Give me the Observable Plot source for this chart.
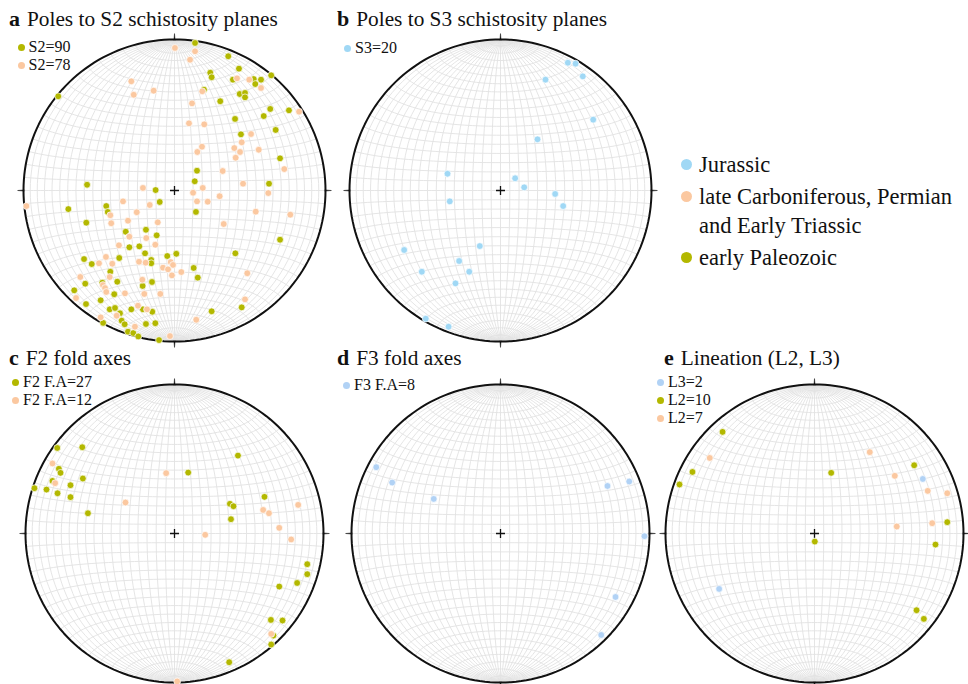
<!DOCTYPE html>
<html><head><meta charset="utf-8">
<script src="https://cdn.jsdelivr.net/npm/d3@7"></script>
<script src="https://cdn.jsdelivr.net/npm/@observablehq/plot@0.6"></script>
<style>
body{margin:0;background:#fff;}
#fig{position:relative;width:968px;height:684px;overflow:hidden;background:#fff;font-family:"Liberation Serif","Times New Roman",serif;color:#111;}
.panel{position:absolute;}
.panel svg{display:block;max-width:none;}
.title{position:absolute;font-size:21.3px;line-height:1;white-space:nowrap;z-index:2;}
.title b{margin-right:7px;font-size:22px;}
.leg{position:absolute;font-size:16px;line-height:18px;white-space:nowrap;z-index:2;}
.leg .row{display:flex;align-items:center;height:18px;}
.leg .d{display:inline-block;width:7px;height:7px;border-radius:50%;margin-right:4px;}
.big{position:absolute;font-size:22.5px;line-height:29px;z-index:2;}
.big .row{display:flex;align-items:flex-start;margin-bottom:3px;}
.big .d{display:inline-block;width:11px;height:11px;border-radius:50%;margin:9px 7px 0 0;flex:none;}
</style></head>
<body><div id="fig"></div>
<script>
// ---- colours
const GREEN = "#b3b800", PEACH = "#fbc8a0", BLUE = "#a0d8f5", BLUE2 = "#b1d2f5";

// ---- data: positions of points on the equal-area net (east, north), unit radius
// a: poles to S2
const a_paleozoic = [[-0.770,0.624],[-0.579,0.038],[-0.125,0.003],[0.136,0.977],[0.356,0.889],[0.427,0.807],[0.644,0.767],[0.237,0.780],[0.246,0.750],[0.387,0.734],[0.525,0.738],[0.573,0.734],[0.535,0.705],[0.195,0.668],[0.432,0.639],[0.467,0.646],[0.467,0.617],[0.303,0.591],[0.634,0.540],[0.758,0.531],[0.591,0.493],[0.401,0.474],[0.670,0.401],[0.440,0.372],[0.699,0.213],[0.149,0.131],[0.134,0.061],[0.626,0.045],[-0.703,-0.123],[-0.098,-0.076],[-0.452,-0.103],[-0.442,-0.142],[-0.584,-0.213],[-0.323,-0.273],[-0.189,-0.260],[-0.118,-0.297],[-0.299,-0.376],[-0.233,-0.370],[-0.195,-0.416],[-0.599,-0.454],[-0.548,-0.487],[-0.366,-0.447],[-0.154,-0.460],[-0.154,-0.482],[-0.048,-0.434],[0.012,-0.419],[-0.425,-0.538],[-0.591,-0.617],[-0.478,-0.611],[-0.379,-0.604],[-0.399,-0.687],[-0.664,-0.661],[-0.211,-0.632],[-0.149,-0.606],[-0.586,-0.752],[-0.489,-0.727],[-0.429,-0.787],[-0.394,-0.778],[-0.286,-0.787],[-0.209,-0.787],[-0.147,-0.803],[-0.361,-0.813],[-0.350,-0.862],[-0.330,-0.886],[-0.474,-0.879],[-0.308,-0.935],[-0.273,-0.944],[-0.189,-0.884],[-0.127,-0.879],[-0.242,-0.975],[-0.103,-0.997],[0.142,-0.142],[0.699,-0.326],[0.403,-0.416],[0.127,-0.513],[0.154,-0.577],[0.445,-0.774],[0.246,-0.800]];
const a_latecarb = [[0.003,0.944],[-0.286,0.723],[-0.138,0.661],[-0.270,0.634],[-0.209,0.017],[0.136,0.922],[0.103,0.866],[0.414,0.743],[0.495,0.734],[0.573,0.679],[0.184,0.657],[0.116,0.577],[0.825,0.522],[0.096,0.445],[0.197,0.438],[0.507,0.374],[0.445,0.319],[0.182,0.290],[0.151,0.255],[0.396,0.281],[0.434,0.255],[0.405,0.217],[0.558,0.270],[0.727,0.142],[0.319,0.129],[0.187,0.017],[0.454,0.045],[0.123,-0.015],[-0.981,-0.103],[-0.164,-0.096],[-0.341,-0.072],[-0.425,-0.164],[-0.250,-0.144],[-0.419,-0.217],[-0.308,-0.200],[-0.111,-0.211],[-0.299,-0.306],[-0.187,-0.315],[-0.368,-0.363],[-0.127,-0.359],[-0.500,-0.482],[-0.454,-0.440],[-0.412,-0.485],[-0.235,-0.472],[-0.191,-0.478],[-0.025,-0.474],[-0.010,-0.493],[-0.076,-0.511],[-0.043,-0.522],[-0.017,-0.562],[-0.429,-0.573],[-0.624,-0.573],[-0.474,-0.626],[-0.460,-0.646],[-0.452,-0.672],[-0.652,-0.712],[-0.328,-0.681],[-0.200,-0.685],[-0.213,-0.591],[-0.094,-0.685],[-0.383,-0.829],[-0.242,-0.763],[-0.182,-0.787],[-0.489,-0.840],[-0.262,-0.902],[-0.030,-0.964],[0.299,-0.038],[0.149,-0.072],[0.220,-0.074],[0.621,-0.017],[0.538,-0.140],[0.767,-0.160],[0.326,-0.222],[0.045,-0.540],[0.482,-0.548],[0.467,-0.721],[0.144,-0.856]];
// b: poles to S3
const b_jurassic = [[0.446,0.846],[0.497,0.840],[0.545,0.756],[0.298,0.734],[0.614,0.469],[0.245,0.339],[-0.351,0.111],[0.097,0.081],[0.157,0.021],[0.362,-0.023],[0.415,-0.103],[-0.336,-0.072],[-0.137,-0.368],[-0.638,-0.394],[-0.274,-0.467],[-0.521,-0.538],[-0.207,-0.538],[-0.298,-0.615],[-0.495,-0.849],[-0.344,-0.902]];
// c: F2 fold axes
const c_paleozoic = [[-0.787,0.574],[-0.619,0.579],[-0.776,0.434],[-0.765,0.407],[-0.819,0.353],[-0.940,0.304],[-0.859,0.295],[-0.785,0.270],[-0.698,0.324],[-0.615,0.369],[-0.698,0.244],[-0.581,0.136],[0.092,0.409],[0.426,0.523],[0.372,0.199],[0.396,0.183],[0.379,0.096],[0.604,0.246],[0.891,-0.206],[0.891,-0.273],[0.823,-0.332],[0.703,-0.356],[0.647,-0.580],[0.725,-0.584],[0.664,-0.685],[0.649,-0.745],[0.367,-0.864]];
const c_latecarb = [[-0.819,0.470],[-0.801,0.338],[-0.056,0.405],[-0.329,0.208],[0.206,-0.009],[0.595,0.158],[0.634,0.136],[0.830,0.192],[0.703,0.038],[0.783,-0.040],[0.649,-0.674],[0.018,-0.993]];
// d: F3 fold axes
const d_jurassic = [[-0.834,0.445],[-0.727,0.342],[-0.448,0.232],[0.718,0.319],[0.864,0.349],[0.966,-0.018],[0.772,-0.426],[0.676,-0.681]];
// e: lineation
const e_L3 = [[0.727,0.366],[-0.640,-0.372]];
const e_L2_paleozoic = [[-0.617,0.682],[-0.819,0.413],[-0.906,0.329],[0.112,0.407],[0.669,0.458],[0.891,0.076],[0.812,-0.074],[0.002,-0.054],[0.685,-0.515],[0.734,-0.573]];
const e_L2_latecarb = [[-0.703,0.507],[0.371,0.546],[0.539,0.387],[0.760,0.286],[0.891,0.270],[0.552,0.047],[0.790,0.069]];

// ---- text
const titles = [
  {id:"a", text:"Poles to S2 schistosity planes"},
  {id:"b", text:"Poles to S3 schistosity planes"},
  {id:"c", text:"F2 fold axes"},
  {id:"d", text:"F3 fold axes"},
  {id:"e", text:"Lineation (L2, L3)"}
];
const legendLabels = {
  a: ["S2=90","S2=78"], b: ["S3=20"], c: ["F2 F.A=27","F2 F.A=12"], d: ["F3 F.A=8"], e: ["L3=2","L2=10","L2=7"]
};
const ageLabels = ["Jurassic", "late Carboniferous, Permian and Early Triassic", "early Paleozoic"];
const ageColors = [BLUE, PEACH, GREEN];
const cardinals = [{dir:"N", az:0},{dir:"E", az:90},{dir:"S", az:180},{dir:"W", az:270}];

// ---- layout (pixels)
const layout = {
  a:{cx:173.5, cy:189.5, R:151, tx:9, ty:8, lx:17.5, ly:38},
  b:{cx:500, cy:189.5, R:151, tx:337, ty:8, lx:344, ly:39},
  c:{cx:174.3, cy:533.3, R:149, tx:9, ty:347, lx:12, ly:373},
  d:{cx:500, cy:533.3, R:149, tx:337, ty:347, lx:343, ly:376},
  e:{cx:814, cy:533.3, R:149, tx:664, ty:347, lx:657, ly:373}
};

const series = {
  a: [{data:a_paleozoic, color:GREEN}, {data:a_latecarb, color:PEACH}],
  b: [{data:b_jurassic, color:BLUE}],
  c: [{data:c_paleozoic, color:GREEN}, {data:c_latecarb, color:PEACH}],
  d: [{data:d_jurassic, color:BLUE2}],
  e: [{data:e_L2_paleozoic, color:GREEN}, {data:e_L2_latecarb, color:PEACH}, {data:e_L3, color:BLUE2}]
};
const legendColors = {a:[GREEN,PEACH], b:[BLUE], c:[GREEN,PEACH], d:[BLUE2], e:[BLUE2,GREEN,PEACH]};

// net coordinates -> lon/lat on the sphere of an equatorial equal-area net
const unit = d3.geoAzimuthalEqualArea().scale(1).translate([0,0]);
function toLonLat([e, n]) {
  const r = Math.hypot(e, n);
  const k = r > 0.996 ? 0.996 / r : 1;
  return unit.invert([e * k * Math.SQRT2, -n * k * Math.SQRT2]);
}
const grid = d3.geoGraticule().step([5, 5])();
const tickData = cardinals.map(c => {
  const rad = c.az * Math.PI / 180;
  const [lon, lat] = toLonLat([Math.sin(rad) * 0.999, Math.cos(rad) * 0.999]);
  return {lon, lat, rot: c.az};
});

const fig = document.getElementById("fig");
for (const key of Object.keys(layout)) {
  const L = layout[key];
  const pad = 9, S = 2 * L.R + 2 * pad;
  const proj = d3.geoAzimuthalEqualArea().rotate([0, 0]).clipAngle(90)
    .scale(L.R / Math.SQRT2).translate([S / 2, S / 2]).precision(0.1);
  const marks = [
    Plot.geo(grid, {stroke: "#e2e2e2", strokeWidth: 0.9}),
    Plot.sphere({stroke: "#111", strokeWidth: 2}),
    Plot.vector(tickData, {x: "lon", y: "lat", rotate: "rot", length: 6.5, anchor: "start", shape: "spike", r: 0.6, fill: "#111", stroke: "#111", strokeWidth: 0.5}),
    Plot.dot([toLonLat([0, 0])], {x: d => d[0], y: d => d[1], symbol: "times", rotate: 45, r: 3, stroke: "#111", strokeWidth: 1.3})
  ];
  for (const s of series[key]) {
    marks.push(Plot.dot(s.data.map(toLonLat), {x: d => d[0], y: d => d[1], r: 3.4, fill: s.color, stroke: "white", strokeWidth: 0.7}));
  }
  const svg = Plot.plot({width: S, height: S, margin: 0, projection: proj, marks});
  const div = document.createElement("div");
  div.className = "panel";
  div.style.left = (L.cx - S / 2) + "px";
  div.style.top = (L.cy - S / 2) + "px";
  div.style.width = S + "px";
  div.appendChild(svg);
  fig.appendChild(div);

  const t = titles.find(d => d.id === key);
  const td = document.createElement("div");
  td.className = "title";
  td.style.left = L.tx + "px"; td.style.top = L.ty + "px";
  td.innerHTML = `<b>${t.id}</b>${t.text}`;
  fig.appendChild(td);

  const lg = document.createElement("div");
  lg.className = "leg";
  lg.style.left = L.lx + "px"; lg.style.top = L.ly + "px";
  legendLabels[key].forEach((lab, i) => {
    const row = document.createElement("div");
    row.className = "row";
    row.innerHTML = `<span class="d" style="background:${legendColors[key][i]}"></span>${lab}`;
    lg.appendChild(row);
  });
  fig.appendChild(lg);
}
const big = document.createElement("div");
big.className = "big";
big.style.left = "681px"; big.style.top = "150px"; big.style.width = "285px";
ageLabels.forEach((lab, i) => {
  const row = document.createElement("div");
  row.className = "row";
  row.innerHTML = `<span class="d" style="background:${ageColors[i]}"></span><span>${lab}</span>`;
  big.appendChild(row);
});
fig.appendChild(big);
</script></body></html>
